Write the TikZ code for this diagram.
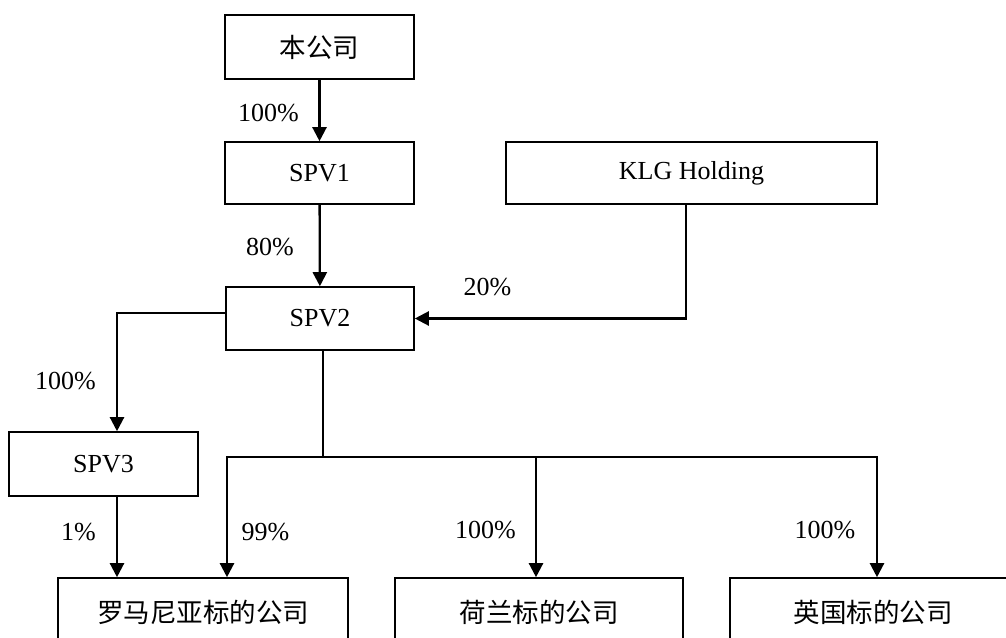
\documentclass[tikz,border=0pt]{standalone}
\usepackage{fontspec}
\setmainfont{Liberation Serif}
\newfontfamily\cjk{Noto Sans CJK SC}
\usetikzlibrary{arrows.meta}
\begin{document}
\begin{tikzpicture}[x=1pt,y=-1pt,
  box/.style={draw, line width=1.6pt, inner sep=0pt, minimum height=63pt, font=\fontsize{26}{30}\selectfont},
  cbox/.style={box, font=\fontsize{26.5}{30}\selectfont\cjk},
  lab/.style={inner sep=0pt, font=\fontsize{26}{30}\selectfont},
  conn/.style={line width=2.3pt},
  arr/.style={conn, -{Triangle[width=14pt,length=14pt]}}]
\useasboundingbox (0,0) rectangle (1006,637);
\clip (0,0) rectangle (1006,637);
% boxes
\node[cbox, minimum width=189pt, minimum height=64pt] (top) at (319.5,47) {本公司};
\node[box, minimum width=189pt, minimum height=62pt] (spv1) at (319.5,173) {SPV1};
\node[box, minimum width=371pt, minimum height=62pt] (klg) at (691.5,173) {KLG Holding};
\node[box, minimum width=188pt, minimum height=63pt] (spv2) at (320,318.5) {SPV2};
\node[box, minimum width=189pt, minimum height=64pt] (spv3) at (103.5,464) {SPV3};
\node[cbox, minimum width=290pt, minimum height=68pt] (ro) at (203,612) {罗马尼亚标的公司};
\node[cbox, minimum width=288pt, minimum height=68pt] (nl) at (539,612) {荷兰标的公司};
\node[cbox, minimum width=286pt, minimum height=68pt] (uk) at (873,612) {英国标的公司};
% connectors
\draw[arr] (top) -- (spv1);
\draw[arr] (spv1) -- (spv2);
\draw[arr] ([xshift=-5.5pt]klg.south) |- (spv2.east);
\draw[arr] ([yshift=5.5pt]spv2.west) -| ([xshift=13.5pt]spv3.north);
\draw[arr] ([xshift=13.5pt]spv3.south) -- ([xshift=13.5pt]spv3.south |- ro.north);
\coordinate (b) at (323,457);
\draw[conn] ([xshift=3pt]spv2.south) -- (b);
\draw[arr] (b) -| ([xshift=24pt]ro.north);
\draw[arr] (b) -| ([xshift=-3pt]nl.north);
\draw[arr] (b) -| ([xshift=4pt]uk.north);
% labels
\node[lab] (l1) at (268.5,113) {100\%};
\node[lab] (l2) at (270,247) {80\%};
\node[lab] (l3) at (487.5,287) {20\%};
\node[lab] (l4) at (65.5,381) {100\%};
\node[lab] (l5) at (78.5,532) {1\%};
\node[lab] (l6) at (265.5,532) {99\%};
\node[lab] (l7) at (485.5,530) {100\%};
\node[lab] (l8) at (825,530) {100\%};
\end{tikzpicture}
\end{document}
